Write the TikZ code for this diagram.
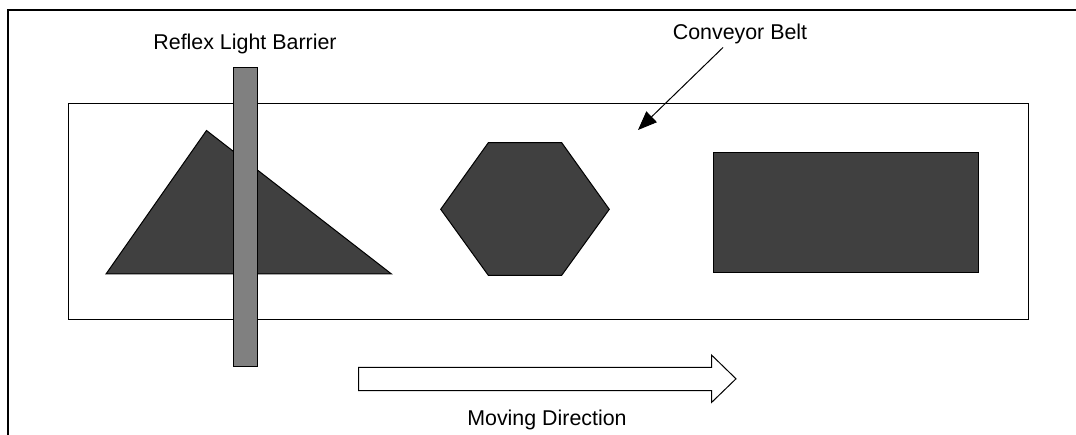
\documentclass[tikz,border=0pt]{standalone}
\usepackage{fontspec}
\setmainfont{Liberation Sans}
\usetikzlibrary{arrows.meta}
\begin{document}
\begin{tikzpicture}[x=1pt,y=-1pt,
  thin line/.style={line width=1pt,draw=black},
  object/.style={thin line,fill=black!75},
  label text/.style={font=\fontsize{21.4}{25}\selectfont,anchor=base,inner sep=0pt}]
\useasboundingbox (0,0) rectangle (1076,435);
% outer frame (top and left edges)
\draw[line width=2.2pt] (8,435) -- (8,10) -- (1076,10);
% conveyor belt
\draw[thin line] (68,104) rectangle (1028,320);
% objects on the belt
\draw[object] (106,274) -- (206.5,130.5) -- (391.5,274) -- cycle;
\draw[object] (488.3,142.7) -- (561.7,142.7) -- (609.3,209.3) -- (561.7,275.3)
  -- (488.3,275.3) -- (440.7,209.3) -- cycle;
\draw[object] (713.5,152.5) rectangle (978.5,273);
% reflex light barrier
\draw[thin line,fill=black!50] (233.5,67.5) rectangle (257.5,367);
\node[label text] (barrier) at (245,49.3) {Reflex Light Barrier};
% conveyor belt label and pointer
\node[label text] (belt) at (740,39.3) {Conveyor Belt};
\coordinate (beltpt) at (638,130);
\draw[line width=1pt,-{Triangle[length=19pt,width=15pt]}] (723,47.5) -- (beltpt);
% moving direction arrow
\draw[thin line,fill=white] (358.5,367.5) -- (711.5,367.5) -- (711.5,355) -- (736,378.8)
  -- (711.5,402.5) -- (711.5,390.5) -- (358.5,390.5) -- cycle;
\node[label text] (dir) at (547,425) {Moving Direction};
\end{tikzpicture}
\end{document}
